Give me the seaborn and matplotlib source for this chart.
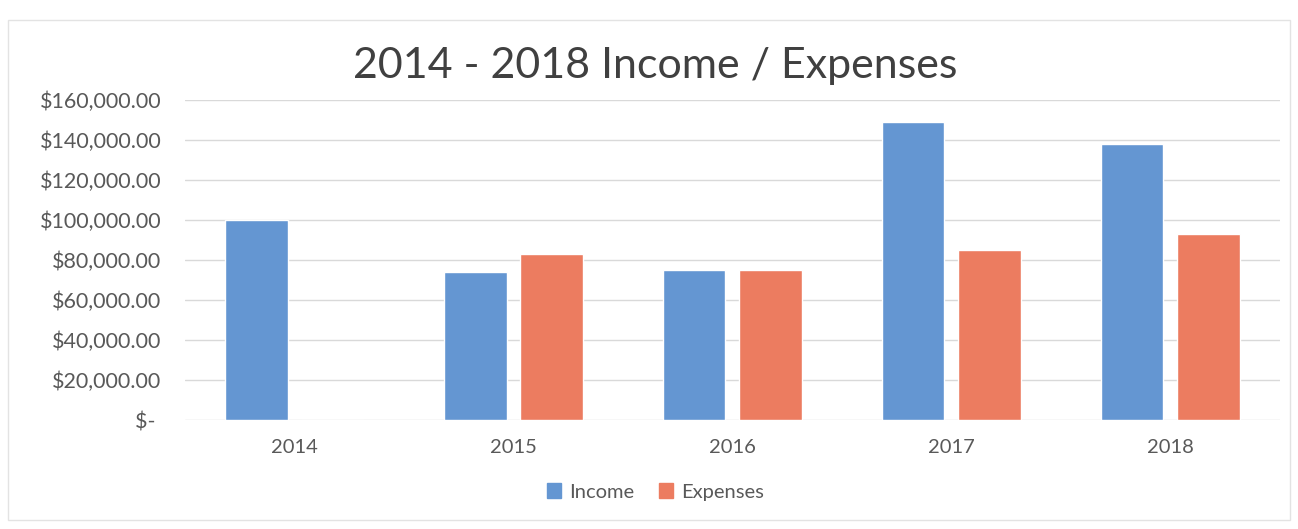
import matplotlib
matplotlib.use("Agg")
import matplotlib.pyplot as plt
import matplotlib.patches as mpatches
import seaborn as sns
import pandas as pd

years = ["2014", "2015", "2016", "2017", "2018"]
income = [100000, 74000, 75000, 149000, 138000]
expenses = [0, 83000, 75000, 85000, 93000]
series_names = ["Income", "Expenses"]
yticks = [0, 20000, 40000, 60000, 80000, 100000, 120000, 140000, 160000]
ytick_labels = ["$- ", "$20,000.00", "$40,000.00", "$60,000.00", "$80,000.00",
                "$100,000.00", "$120,000.00", "$140,000.00", "$160,000.00"]
title = "2014 - 2018 Income / Expenses"

df = pd.DataFrame({
    "Year": years * 2,
    "Value": income + expenses,
    "Series": [series_names[0]] * len(years) + [series_names[1]] * len(years),
})

sns.set_theme(style="white")
plt.rcParams["font.family"] = ["Lato", "DejaVu Sans"]

fig = plt.figure(figsize=(12.98, 5.29), dpi=100)
ax = fig.add_axes([0.1425, 0.206, 0.8435, 0.605])

palette = {"Income": "#6496D2", "Expenses": "#EC7C60"}
sns.barplot(data=df, x="Year", y="Value", hue="Series", order=years,
            hue_order=series_names, palette=palette, width=0.70, gap=0.18,
            saturation=1, ax=ax, legend=False, zorder=3)

ax.set_ylim(0, 160000)
ax.set_xlim(-0.5, len(years) - 0.5)
ax.set_yticks(yticks)
ax.set_yticklabels(ytick_labels)
ax.grid(axis="y", color="#D9D9D9", linewidth=1, zorder=0)
ax.grid(axis="x", visible=False)
for s in ax.spines.values():
    s.set_visible(False)
ax.tick_params(axis="both", length=0, colors="#595959", labelsize=14.5)
ax.tick_params(axis="y", pad=17, labelsize=15.5)
ax.tick_params(axis="x", pad=14)
ax.set_xlabel("")
ax.set_ylabel("")

fig.text(0.505, 0.875, title, ha="center", va="center", fontsize=31, color="#404040")

handles = [mpatches.Patch(color=palette[n], label=n) for n in series_names]
fig.legend(handles=handles, loc="center", bbox_to_anchor=(0.505, 0.07), ncol=2,
           frameon=False, fontsize=14.5, handlelength=0.7, handleheight=0.7,
           handletextpad=0.4, columnspacing=1.2, labelcolor="#595959")

border = mpatches.Rectangle((0.006, 0.017), 0.988, 0.946, transform=fig.transFigure,
                            fill=False, edgecolor="#E3E3E3", linewidth=1)
fig.patches.append(border)

fig.savefig("out.png", dpi=100, facecolor="white")
